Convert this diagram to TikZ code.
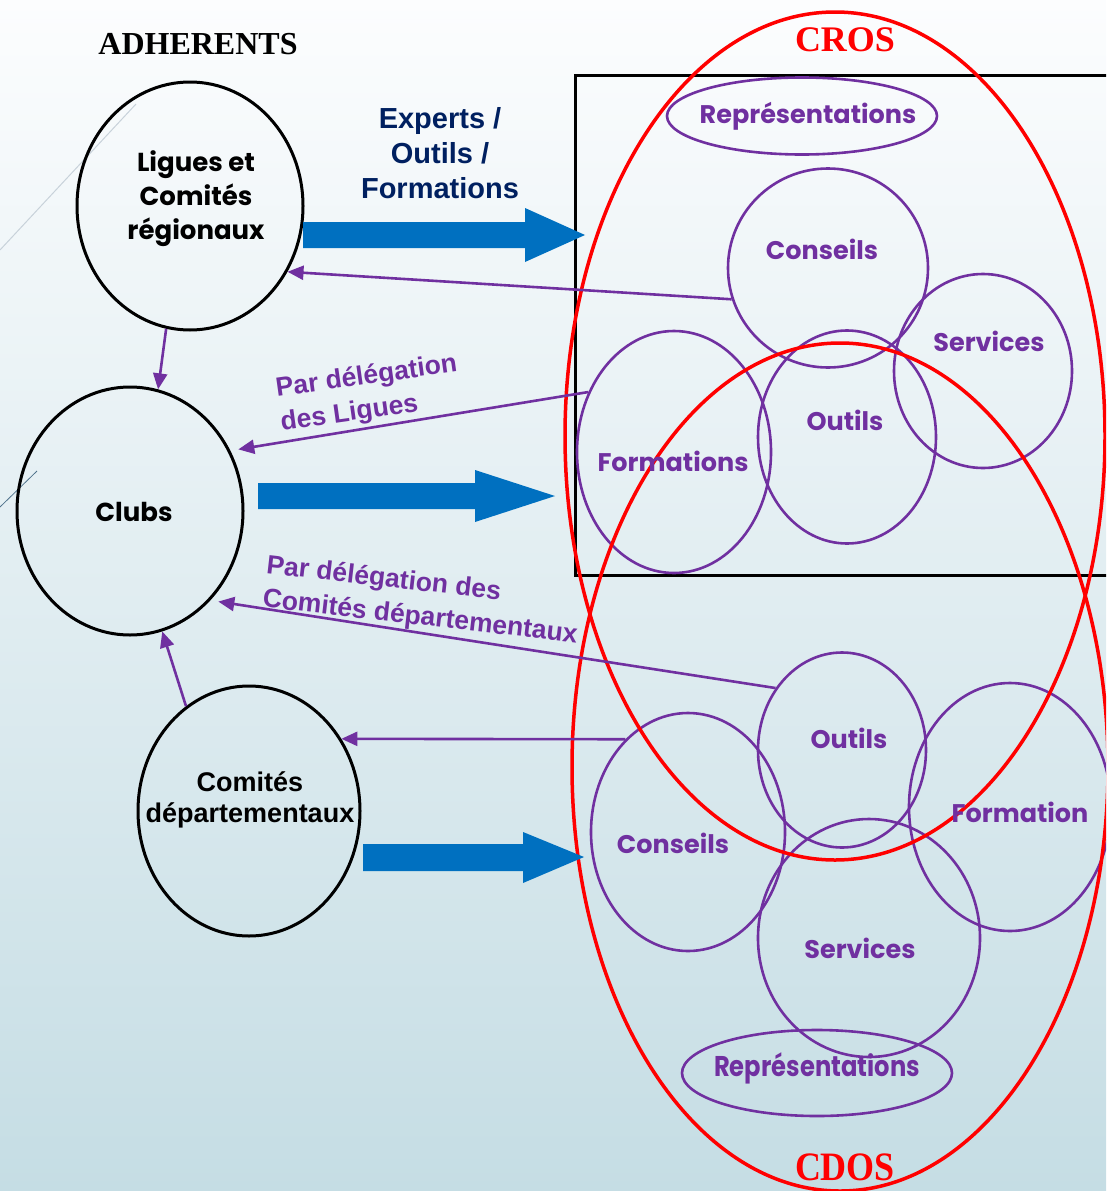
\documentclass[tikz,border=0pt]{standalone}
\usepackage{fontspec}
\setmainfont{Liberation Serif}
\newfontfamily\gothic{Poppins}
\newfontfamily\arial{Liberation Sans}
\usetikzlibrary{shapes.geometric,arrows.meta}
\definecolor{bgtop}{RGB}{252,253,254}
\definecolor{bgbot}{RGB}{197,221,228}
\definecolor{purp}{RGB}{112,48,160}
\definecolor{bluearrow}{RGB}{0,112,192}
\definecolor{navy}{RGB}{0,32,96}
\definecolor{decoA}{RGB}{200,210,218}
\definecolor{decoB}{RGB}{80,115,140}
\begin{document}
\begin{tikzpicture}[x=1pt,y=-1pt,
  oval/.style={ellipse, draw=black, inner sep=0pt, line width=3pt},
  redoval/.style={ellipse, draw=red, inner sep=0pt, line width=3.5pt},
  poval/.style={ellipse, draw=purp, inner sep=0pt, line width=2.6pt},
  ptext/.style={text=purp, font=\gothic\bfseries\fontsize{25.5}{28}\selectfont, inner sep=0pt},
  btext/.style={text=black, font=\gothic\bfseries\fontsize{26}{34}\selectfont, align=center, inner sep=0pt},
  parrow/.style={draw=purp, line width=2.6pt, -{Triangle[length=16pt,width=14pt]}},
  blockarrow/.style={fill=bluearrow},
  plabel/.style={text=purp, font=\arial\bfseries\fontsize{26.5}{34}\selectfont, align=left, inner sep=0pt},
  titletext/.style={font=\bfseries\fontsize{36}{36}\selectfont, text=red, inner sep=0pt}
]
\useasboundingbox (0,0) rectangle (1106,1191);
\clip (0,0) rectangle (1106,1191);
\shade[top color=bgtop, bottom color=bgbot] (0,0) rectangle (1106,1191);

% decorative background lines
\draw[decoA, line width=1pt] (0,250) -- (136,104);
\draw[decoB, line width=0.8pt] (0,507) -- (37,471);

% CROS frame
\draw[black, line width=3pt] (575,75) rectangle (1120,575);

% purple circles CROS
\node[poval, minimum width=270pt, minimum height=77pt] (rep1) at (802,116) {};
\node[poval, minimum width=200pt, minimum height=199pt] (cons1) at (828,268) {};
\node[poval, minimum width=178pt, minimum height=194pt] (serv1) at (983,371) {};
\node[poval, minimum width=178pt, minimum height=213pt] (out1) at (847,437) {};
\node[poval, minimum width=194pt, minimum height=242pt] (form1) at (674,452) {};

% purple circles CDOS
\node[poval, minimum width=168pt, minimum height=195pt] (out2) at (842,750) {};
\node[poval, minimum width=202pt, minimum height=248pt] (form2) at (1010,807) {};
\node[poval, minimum width=194pt, minimum height=238pt] (cons2) at (688,832) {};
\node[poval, minimum width=222pt, minimum height=238pt] (serv2) at (869,938) {};
\node[poval, minimum width=270pt, minimum height=86pt] (rep2) at (817,1073) {};

% red ellipses
\node[redoval, minimum width=540pt, minimum height=848pt] (cros) at (835,436) {};
\node[redoval, minimum width=536pt, minimum height=848pt] (cdos) at (840,767) {};

% black ellipses
\node[oval, minimum width=226pt, minimum height=248pt] (lig) at (190,206) {};
\node[oval, minimum width=226pt, minimum height=248pt] (clubs) at (130,511) {};
\node[oval, minimum width=222pt, minimum height=250pt] (cd) at (249,811) {};

% texts
\node[font=\bfseries\fontsize{32}{32}\selectfont, inner sep=0pt] (adh) at (198,44) {ADHERENTS};
\node[titletext] (crost) at (845,40) {CROS};
\node[titletext] (cdost) at (845,1167) {\scalebox{1}[1.12]{CDOS}};

\node[btext] (ligt) at (196,199) {Ligues et\\Comités\\régionaux};
\node[btext] (clubst) at (134,512) {Clubs};
\node[font=\arial\bfseries\fontsize{27}{31}\selectfont, align=center, inner sep=0pt] (cdt) at (250,800) {Comités\\départementaux};

\node[font=\arial\bfseries\fontsize{29}{35}\selectfont, text=navy, align=center, inner sep=0pt] (exp) at (440,153) {Experts /\\Outils /\\Formations};

\node[ptext] (rep1t) at (808,116) {Représentations};
\node[ptext] (cons1t) at (822,249) {Conseils};
\node[ptext] (serv1t) at (989,341) {Services};
\node[ptext] (out1t) at (845,420) {Outils};
\node[ptext] (form1t) at (673,461) {Formations};

\node[ptext] (out2t) at (849,738) {Outils};
\node[ptext] (form2t) at (1020,812) {Formation};
\node[ptext] (cons2t) at (673,843) {Conseils};
\node[ptext] (serv2t) at (860,948) {Services};
\node[ptext] (rep2t) at (817,1068) {\scalebox{0.95}[1.12]{Représentations}};

\node[plabel, rotate=8] (lab1) at (369,394) {Par délégation\\des Ligues};
\node[plabel, rotate=-6.5] (lab2) at (422,601) {Par délégation des\\Comités départementaux};

% blue block arrows
\fill[blockarrow] (303,222) -- (525,222) -- (525,208) -- (585,235) -- (525,262) -- (525,248) -- (303,248) -- cycle;
\fill[blockarrow] (258,483) -- (475,483) -- (475,470) -- (555,496) -- (475,522) -- (475,509) -- (258,509) -- cycle;
\fill[blockarrow] (363,844) -- (523,844) -- (523,832) -- (584,857) -- (523,883) -- (523,871) -- (363,871) -- cycle;

% purple connectors
\draw[parrow] (cons1.198) -- (lig.-34);
\draw[parrow] (lig.-101) -- (clubs.77);
\draw[parrow, shorten >=8pt] (form1.145) -- (clubs.31);
\draw[parrow, shorten >=8pt] (out2.137.5) -- (clubs.-48.5);
\draw[parrow] (cd.121) -- (clubs.-75);
\draw[parrow] (cons2.124) -- (cd.38);
\end{tikzpicture}
\end{document}
